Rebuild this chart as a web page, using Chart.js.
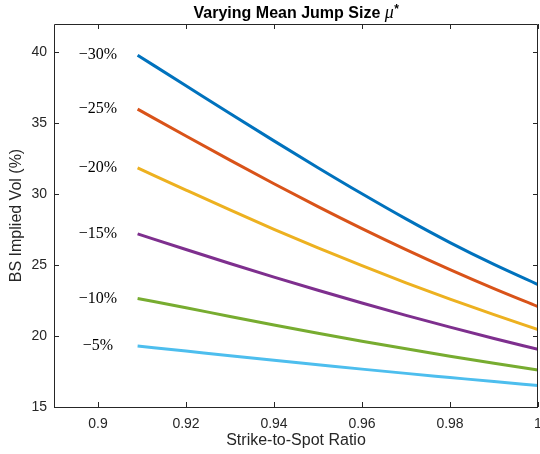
<!DOCTYPE html>
<html>
<head>
<meta charset="utf-8">
<title>Varying Mean Jump Size</title>
<script src="https://cdn.jsdelivr.net/npm/chart.js@4.4.1/dist/chart.umd.min.js"></script>
<style>
  html, body { margin: 0; padding: 0; background: #fff; }
  #wrap { width: 540px; height: 454px; }
</style>
</head>
<body>
<div id="wrap"><canvas id="volChart" width="540" height="454"></canvas></div>
<script>
// strike-to-spot grid
const ratios = [0.909, 0.92, 0.93, 0.94, 0.95, 0.96, 0.97, 0.98, 0.99, 1.0];

// BS implied vol (%) for each mean jump size
const volM30 = [39.8, 37.65, 35.69, 33.76, 31.87, 30.03, 28.26, 26.59, 25.05, 23.63];
const volM25 = [36.0, 34.1, 32.4, 30.74, 29.13, 27.58, 26.1, 24.69, 23.35, 22.08];
const volM20 = [31.85, 30.29, 28.89, 27.53, 26.22, 24.96, 23.75, 22.6, 21.51, 20.46];
const volM15 = [27.2, 26.1, 25.12, 24.16, 23.23, 22.33, 21.46, 20.63, 19.83, 19.06];
const volM10 = [22.65, 22.0, 21.38, 20.78, 20.2, 19.64, 19.1, 18.58, 18.08, 17.6];
const volM5 = [19.3, 18.94, 18.61, 18.29, 17.98, 17.67, 17.37, 17.08, 16.79, 16.51];

const jumpLabels = ['\u221230%', '\u221225%', '\u221220%', '\u221215%', '\u221210%', '\u22125%'];
const xTicks = [0.9, 0.92, 0.94, 0.96, 0.98, 1];
const yTicks = [15, 20, 25, 30, 35, 40];

const seriesVals = [volM30, volM25, volM20, volM15, volM10, volM5];
const colors = ['#0072BD', '#D95319', '#EDB120', '#7E2F8E', '#77AC30', '#4DBEEE'];
const axisColor = '#262626';
const sans = '"Liberation Sans", Arial, Helvetica, sans-serif';
const serif = '"Liberation Serif", "DejaVu Serif", serif';

const datasets = seriesVals.map((vals, i) => ({
  label: jumpLabels[i],
  data: ratios.map((r, k) => ({ x: r, y: vals[k] })),
  borderColor: colors[i],
  borderWidth: 3,
  pointRadius: 0,
  fill: false,
  cubicInterpolationMode: 'monotone'
}));

// box, inward ticks, curve labels and title
const decor = {
  id: 'decor',
  afterDraw(chart) {
    const ctx = chart.ctx;
    const a = chart.chartArea;
    const xs = chart.scales.x, ys = chart.scales.y;
    ctx.save();
    ctx.strokeStyle = axisColor;
    ctx.lineWidth = 1;
    ctx.beginPath();
    ctx.rect(Math.round(a.left) + 0.5, Math.round(a.top) + 0.5,
             Math.round(a.right - a.left) - 1, Math.round(a.bottom - a.top));
    const tl = 5;
    xTicks.forEach(v => {
      const px = Math.round(xs.getPixelForValue(v)) + 0.5;
      ctx.moveTo(px, a.bottom); ctx.lineTo(px, a.bottom - tl);
      ctx.moveTo(px, a.top); ctx.lineTo(px, a.top + tl);
    });
    yTicks.forEach(v => {
      const py = Math.round(ys.getPixelForValue(v)) + 0.5;
      ctx.moveTo(a.left, py); ctx.lineTo(a.left + tl, py);
      ctx.moveTo(a.right, py); ctx.lineTo(a.right - tl, py);
    });
    ctx.stroke();

    // jump size labels at the start of each curve
    ctx.fillStyle = '#000';
    ctx.font = '16px ' + serif;
    ctx.textAlign = 'center';
    ctx.textBaseline = 'middle';
    seriesVals.forEach((vals, i) => {
      ctx.fillText(jumpLabels[i], xs.getPixelForValue(0.9), ys.getPixelForValue(vals[0]));
    });

    // title with italic mu
    const t1 = 'Varying Mean Jump Size ';
    const fBold = 'bold 16px ' + sans;
    const fMu = 'italic 18px ' + serif;
    const fStar = 'bold 12px ' + sans;
    ctx.font = fBold; const w1 = ctx.measureText(t1).width;
    ctx.font = fMu; const w2 = ctx.measureText('\u03bc').width;
    ctx.font = fStar; const w3 = ctx.measureText('*').width;
    let x0 = (a.left + a.right) / 2 - (w1 + w2 + w3) / 2;
    const ty = 18;
    ctx.textAlign = 'left';
    ctx.textBaseline = 'alphabetic';
    ctx.fillStyle = '#000';
    ctx.font = fBold; ctx.fillText(t1, x0, ty); x0 += w1;
    ctx.font = fMu; ctx.fillText('\u03bc', x0, ty); x0 += w2 + 0.5;
    ctx.font = fStar; ctx.fillText('*', x0, ty - 5);
    ctx.restore();
  }
};

new Chart(document.getElementById('volChart'), {
  type: 'line',
  data: { datasets: datasets },
  options: {
    responsive: false,
    animation: false,
    layout: { padding: { top: 24, right: 2, left: 0, bottom: 0 } },
    plugins: { legend: { display: false }, tooltip: { enabled: false } },
    scales: {
      x: {
        type: 'linear',
        min: 0.89,
        max: 1.0,
        afterBuildTicks: s => { s.ticks = xTicks.map(v => ({ value: v })); },
        afterFit: s => { s.height = 47; s.paddingLeft = 0; s.paddingRight = 0; },
        grid: { display: false, drawTicks: false },
        border: { display: false },
        ticks: {
          padding: 9,
          color: axisColor,
          font: { family: sans, size: 14 },
          maxRotation: 0,
          callback: v => String(v)
        },
        title: {
          display: true,
          text: 'Strike-to-Spot Ratio',
          color: axisColor,
          font: { family: sans, size: 16 },
          padding: { top: 0, bottom: 4 }
        }
      },
      y: {
        min: 15,
        max: 42,
        afterBuildTicks: s => { s.ticks = yTicks.map(v => ({ value: v })); },
        afterFit: s => { s.width = 54; s.paddingTop = 0; s.paddingBottom = 0; },
        grid: { display: false, drawTicks: false },
        border: { display: false },
        ticks: {
          padding: 7,
          color: axisColor,
          font: { family: sans, size: 14 },
          callback: v => String(v)
        },
        title: {
          display: true,
          text: 'BS Implied Vol (%)',
          color: axisColor,
          font: { family: sans, size: 16 },
          padding: { top: 7, bottom: 0 }
        }
      }
    }
  },
  plugins: [decor]
});
</script>
</body>
</html>
